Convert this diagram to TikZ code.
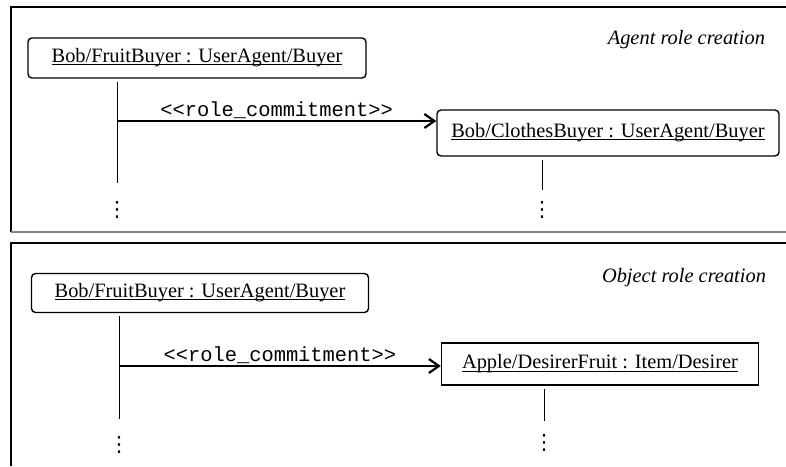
\documentclass[tikz,border=0pt]{standalone}
\usepackage{fontspec}
\setmainfont{Liberation Serif}
\setmonofont{Liberation Mono}
\newfontfamily\symfont{DejaVu Sans}
\usetikzlibrary{arrows.meta}
\newcommand{\rolearrow}{-{Straight Barb[length=5pt,width=7pt]}}
\newcommand{\uname}[1]{\setbox0\hbox{#1}\rlap{\rule[-1.3pt]{\wd0}{0.5pt}}\box0}
\tikzset{
  panel/.style={line width=0.8pt},
  role/.style={draw,line width=0.7pt,inner sep=0pt,minimum height=20pt},
  life/.style={line width=0.5pt,shorten <=1.5pt},
  dotsnode/.style={inner sep=0pt,anchor=base,font=\symfont\fontsize{10.5}{12}\selectfont},
}

\begin{document}
\begin{tikzpicture}[x=0.5pt,y=-0.5pt,font=\fontsize{10.2}{12}\selectfont]
    \useasboundingbox (0,0) rectangle (786,466);
    % agent role creation
    \draw[panel] (786,7) -- (11,7) -- (11,232);
    \draw[panel,gray,line width=1.2pt] (11,232) -- (786,232);
    \node[anchor=east] (capA) at (772,40) {\textit{Agent role creation}};
    \node[role,rounded corners=2pt,minimum width=169pt] (bobA) at (197,58) {\uname{Bob/FruitBuyer : UserAgent/Buyer}};
    \node[role,rounded corners=2pt,minimum width=171pt,minimum height=23pt] (clothes) at (608,133) {\uname{Bob/ClothesBuyer : UserAgent/Buyer}};
    \coordinate (endA) at (117,183);
    \coordinate (endC) at (542,190);
    \coordinate (msgA) at (117,121);
    \draw[life] (bobA.south -| endA) -- (endA);
    \draw[life] (clothes.south -| endC) -- (endC);
    \node[dotsnode] (dotsA) at (117,216) {⋮};
    \node[dotsnode] (dotsC) at (542,216) {⋮};
    \draw[line width=1.1pt,\rolearrow] (msgA) -- (msgA -| clothes.west) node[midway,above,inner sep=0.8pt] (lblA) {\texttt{<{}<role\_commitment>{}>}};
    % object role creation
    \draw[panel] (786,243) -- (11,243) -- (11,466);
    \node[anchor=east] (capB) at (773,278) {\textit{Object role creation}};
    \node[role,rounded corners=2pt,minimum width=168.5pt,minimum height=19.5pt] (bobB) at (200,293) {\uname{Bob/FruitBuyer : UserAgent/Buyer}};
    \node[role,minimum width=158.5pt,minimum height=21pt] (apple) at (600,364) {\uname{Apple/DesirerFruit : Item/Desirer}};
    \coordinate (endB) at (119,419);
    \coordinate (endD) at (544,421);
    \coordinate (msgB) at (119,366);
    \draw[life] (bobB.south -| endB) -- (endB);
    \draw[life] (apple.south -| endD) -- (endD);
    \node[dotsnode] (dotsB) at (119,451) {⋮};
    \node[dotsnode] (dotsD) at (544,449) {⋮};
    \draw[line width=1.1pt,\rolearrow] (msgB) -- (msgB -| apple.west) node[midway,above,inner sep=0.8pt] (lblB) {\texttt{<{}<role\_commitment>{}>}};
\end{tikzpicture}
\end{document}
